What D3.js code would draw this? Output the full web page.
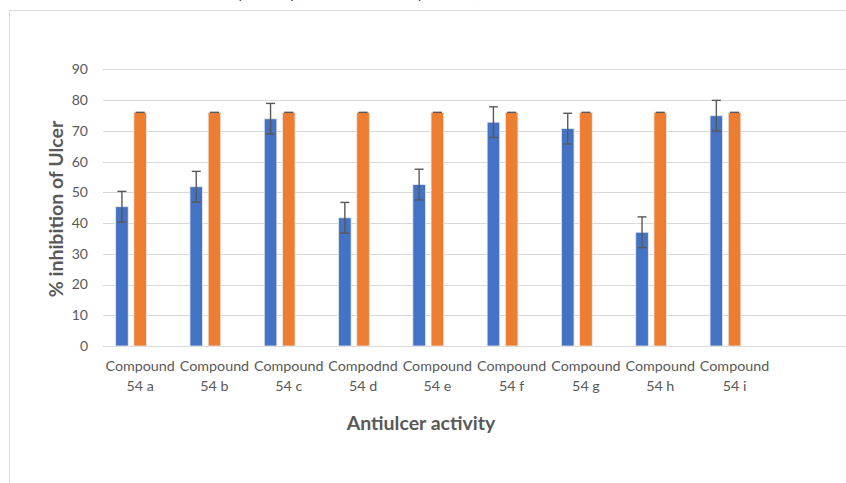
<!DOCTYPE html>
<html>
<head>
<meta charset="utf-8">
<script src="https://cdn.jsdelivr.net/npm/d3@7"></script>
<style>
  html, body { margin: 0; padding: 0; background: #fff; }
  svg { display: block; font-family: Lato, "Open Sans", sans-serif; }
</style>
</head>
<body>
<svg id="chart" width="846" height="483"></svg>
<script>
// ---- data ----
const categoryLine1 = ["Compound","Compound","Compound","Compodnd","Compound","Compound","Compound","Compound","Compound"];
const categoryLine2 = ["54 a","54 b","54 c","54 d","54 e","54 f","54 g","54 h","54 i"];
const testValues    = [45.3, 51.8, 73.9, 41.7, 52.5, 72.8, 70.7, 37.0, 74.9];
const testErrors    = [5, 5, 5, 5, 5, 5, 5, 5, 5];
const standardValues = [76, 76, 76, 76, 76, 76, 76, 76, 76];
const standardErrors = [0, 0, 0, 0, 0, 0, 0, 0, 0];
const yTicks = [0, 10, 20, 30, 40, 50, 60, 70, 80, 90];
const seriesNames = ["Test", "Standard", "Empty"];

// ---- layout ----
const svg = d3.select("#chart");
const plot = { left: 103, right: 846, top: 69.3, bottom: 346 };
const slotKeys = categoryLine2.map((d, i) => "c" + i).concat(["blank"]);

const x0 = d3.scaleBand().domain(slotKeys).range([plot.left, plot.right]).paddingInner(0).paddingOuter(0);
const x1 = d3.scaleBand().domain(seriesNames).range([0, x0.bandwidth()]).paddingInner(0.31).paddingOuter(0.695);
const y = d3.scaleLinear().domain([0, 90]).range([plot.bottom, plot.top]);

// frame
svg.append("path")
  .attr("d", `M9.5,483 L9.5,10.5 L846,10.5`)
  .attr("fill", "none").attr("stroke", "#d9d9d9").attr("stroke-width", 1);

// cut-off title (only descenders visible, as in the reference)
svg.append("text")
  .attr("x", 308).attr("y", -2)
  .attr("text-anchor", "middle")
  .attr("font-size", 15).attr("font-style", "italic").attr("fill", "#404040")
  .text("Antiulcer activity of compounds (mean ± SD, p < 0.05)");

// gridlines
svg.append("g").selectAll("line").data(yTicks).join("line")
  .attr("x1", plot.left).attr("x2", plot.right)
  .attr("y1", d => Math.round(y(d)) + 0.5).attr("y2", d => Math.round(y(d)) + 0.5)
  .attr("stroke", "#d9d9d9").attr("stroke-width", 1);

// y axis labels
const yAxis = d3.axisLeft(y).tickValues(yTicks).tickSize(0).tickPadding(0);
const yg = svg.append("g").attr("transform", `translate(88,0)`).call(yAxis);
yg.select(".domain").remove();
yg.selectAll("text").attr("font-size", 14).attr("fill", "#595959").attr("font-family", "Lato, sans-serif");

// bars
const colors = { Test: "#4472C4", Standard: "#ED7D31" };
const seriesData = [
  { name: "Test", values: testValues, errors: testErrors },
  { name: "Standard", values: standardValues, errors: standardErrors }
];

seriesData.forEach(s => {
  const g = svg.append("g");
  g.selectAll("rect").data(s.values).join("rect")
    .attr("x", (d, i) => x0(slotKeys[i]) + x1(s.name))
    .attr("y", d => y(d))
    .attr("width", x1.bandwidth())
    .attr("height", d => y(0) - y(d))
    .attr("fill", colors[s.name])
    .attr("stroke", "#e8e8e8").attr("stroke-width", 0.8);

  // error bars
  const eg = svg.append("g").attr("stroke", "#595959").attr("stroke-width", 1.4).attr("fill", "none");
  s.values.forEach((v, i) => {
    const cx = x0(slotKeys[i]) + x1(s.name) + x1.bandwidth() / 2;
    const e = s.errors[i];
    const yt = y(v + e), yb = y(v - e);
    if (e > 0) {
      eg.append("line").attr("x1", cx).attr("x2", cx).attr("y1", yt).attr("y2", yb);
      eg.append("line").attr("x1", cx - 4.5).attr("x2", cx + 4.5).attr("y1", yt).attr("y2", yt);
      eg.append("line").attr("x1", cx - 4.5).attr("x2", cx + 4.5).attr("y1", yb).attr("y2", yb);
    } else {
      eg.append("line").attr("x1", cx - 4.5).attr("x2", cx + 4.5).attr("y1", yt).attr("y2", yt);
    }
  });
});

// x axis category labels
const xg = svg.append("g");
categoryLine1.forEach((t, i) => {
  const cx = x0(slotKeys[i]) + x0.bandwidth() / 2;
  const txt = xg.append("text")
    .attr("x", cx).attr("y", 371)
    .attr("text-anchor", "middle")
    .attr("font-size", 14.3).attr("fill", "#595959");
  txt.append("tspan").attr("x", cx).attr("dy", 0).text(t);
  txt.append("tspan").attr("x", cx).attr("dy", 20).text(categoryLine2[i]);
});

// axis titles
svg.append("text")
  .attr("x", 421).attr("y", 430)
  .attr("text-anchor", "middle")
  .attr("font-size", 19.5).attr("font-weight", "bold").attr("fill", "#595959")
  .text("Antiulcer activity");

svg.append("text")
  .attr("transform", `translate(63,209) rotate(-90)`)
  .attr("text-anchor", "middle")
  .attr("font-size", 19.5).attr("font-weight", "bold").attr("fill", "#595959")
  .text("% inhibition of Ulcer");
</script>
</body>
</html>
